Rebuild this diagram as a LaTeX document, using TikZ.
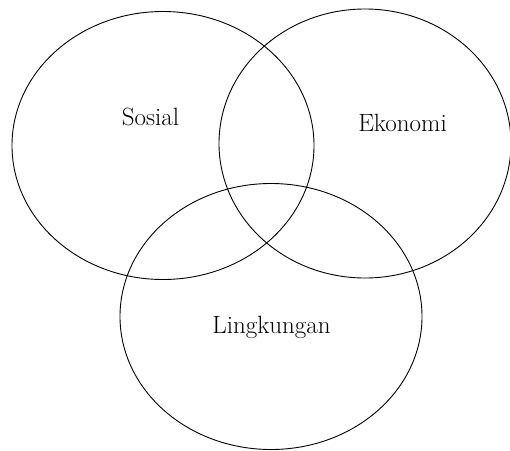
\documentclass[tikz,border=0pt]{standalone}
\begin{document}
\begin{tikzpicture}[x=1pt,y=-1pt,
  ring/.style={draw=black,line width=0.9pt},
  lbl/.style={font=\fontsize{25}{30}\selectfont,inner sep=0pt}]
\useasboundingbox (0,0) rectangle (510,450);
\draw[ring] (163,145.5) ellipse [x radius=151, y radius=134];
\draw[ring] (365,143.5) ellipse [x radius=146, y radius=134.5];
\draw[ring] (271,316.5) ellipse [x radius=151, y radius=133];
\node[lbl] (sosial) at (150.5,117) {Sosial};
\node[lbl] (ekonomi) at (402.5,123) {Ekonomi};
\node[lbl] (lingkungan) at (271.5,327) {Lingkungan};
\end{tikzpicture}
\end{document}
